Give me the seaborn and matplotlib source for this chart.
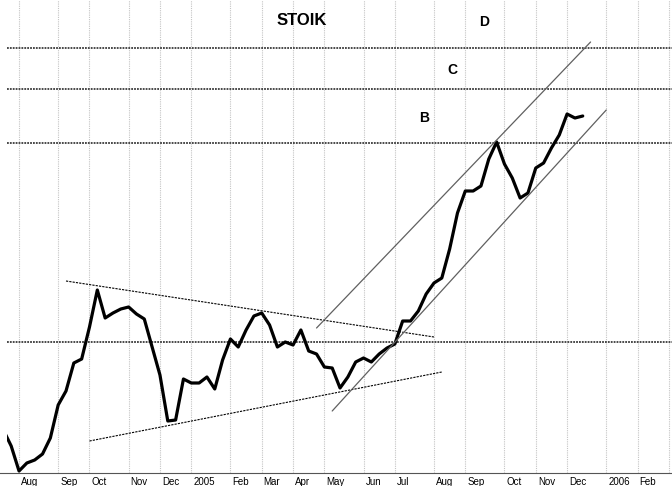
import numpy as np
import matplotlib
matplotlib.use('Agg')
import matplotlib.pyplot as plt
import matplotlib.transforms as mtransforms
from matplotlib.patches import Rectangle
import seaborn as sns

# weekly closes, week 0 = first week of Aug 2004
weeks = np.arange(-2, 73)
close = [4.3, 2.7, 0.2, 1.0, 1.3, 1.9, 3.5, 6.8, 8.2, 11.0, 11.4, 14.6, 18.3, 15.5,
         16.0, 16.4, 16.6, 15.9, 15.4, 12.6, 9.8, 5.2, 5.3, 9.4, 9.0, 9.0, 9.6, 8.4,
         11.3, 13.4, 12.6, 14.3, 15.7, 16.0, 14.8, 12.6, 13.1, 12.8, 14.3, 12.2, 11.9,
         10.6, 10.5, 8.5, 9.6, 11.1, 11.5, 11.1, 11.9, 12.5, 12.9, 15.2, 15.2, 16.2,
         17.9, 19.0, 19.5, 22.4, 26.0, 28.2, 28.2, 28.7, 31.4, 33.1, 30.9, 29.5, 27.5,
         28.0, 30.5, 31.0, 32.5, 33.8, 35.9, 35.5, 35.7]

month_labels = ['Aug', 'Sep', 'Oct', 'Nov', 'Dec', '2005', 'Feb', 'Mar', 'Apr', 'May',
                'Jun', 'Jul', 'Aug', 'Sep', 'Oct', 'Nov', 'Dec', '2006', 'Feb', 'Mar']
month_weeks = [0, 5, 9, 14, 18, 22, 27, 31, 35, 39, 44, 48, 53, 57, 62, 66, 70, 75, 79, 83]

# horizontal levels (A, B, C, D)
levels = [13.1, 33.0, 38.4, 42.5]

# trend lines: (weeks, values)
triangle_top = ([6, 53], [19.2, 13.6])
triangle_bottom = ([9, 54], [3.2, 10.1])
channel_top = ([38, 73], [14.5, 43.1])
channel_bottom = ([40, 75], [6.2, 36.3])

sns.set_style('white')
plt.rcParams['font.family'] = ['Liberation Sans', 'DejaVu Sans']
plt.rcParams['text.color'] = 'black'
plt.rcParams['xtick.color'] = 'black'

fig = plt.figure(figsize=(6.72, 4.86), dpi=100)
ax = fig.add_axes([0, 13 / 486, 1, 473 / 486])
ax.set_xlim(-2.43, 83.4)
ax.set_ylim(0, 47.3)

# month grid
ax.set_xticks(month_weeks, month_labels)
ax.set_xticks(weeks.tolist() + list(range(73, 84)), minor=True)
ax.xaxis.remove_overlapping_locs = False
ax.grid(axis='x', which='major', color='#c4c4c4', linestyle=(0, (1, 1)), lw=0.8)
ax.grid(axis='y', visible=False)
ax.set_yticks([])

ax.hlines(levels, -1.5, 84, colors='#3a3a3a', linestyles=(0, (1, 0.6)), lw=1.3)

sns.lineplot(x=weeks, y=close, color='black', lw=2.3, ax=ax)
clip = Rectangle((-1.5, -5), 100, 100, transform=ax.transData)
ax.lines[-1].set_clip_path(clip)

for xs, ys in [triangle_top, triangle_bottom]:
    ax.plot(xs, ys, color='black', lw=0.8, linestyle=(0, (2, 1)))
for xs, ys in [channel_top, channel_bottom]:
    ax.plot(xs, ys, color='#606060', lw=0.9)

ax.text(36.1, 45.2, 'STOIK', ha='center', va='center', fontsize=12, fontweight='bold')
ax.text(59.4, 45.1, 'D', ha='center', va='center', fontsize=10, fontweight='bold')
ax.text(55.3, 40.3, 'C', ha='center', va='center', fontsize=10, fontweight='bold')
ax.text(51.7, 35.5, 'B', ha='center', va='center', fontsize=10, fontweight='bold')

for s in ['left', 'right', 'top']:
    ax.spines[s].set_visible(False)
ax.spines['bottom'].set_color('#555555')
ax.spines['bottom'].set_linewidth(0.8)

ax.tick_params(axis='x', which='major', direction='out', length=9.4, width=0.8,
               color='black', labelcolor='black', pad=-6.8, labelsize=7)
ax.tick_params(axis='x', which='minor', direction='in', length=3, width=0.8,
               color='#33338a')
offset = mtransforms.ScaledTranslation(2 / 100, 0, fig.dpi_scale_trans)
for lab in ax.get_xticklabels():
    lab.set_horizontalalignment('left')
    lab.set_transform(lab.get_transform() + offset)

ax.set_xlabel('')
ax.set_ylabel('')
fig.savefig('out.png', dpi=100)
